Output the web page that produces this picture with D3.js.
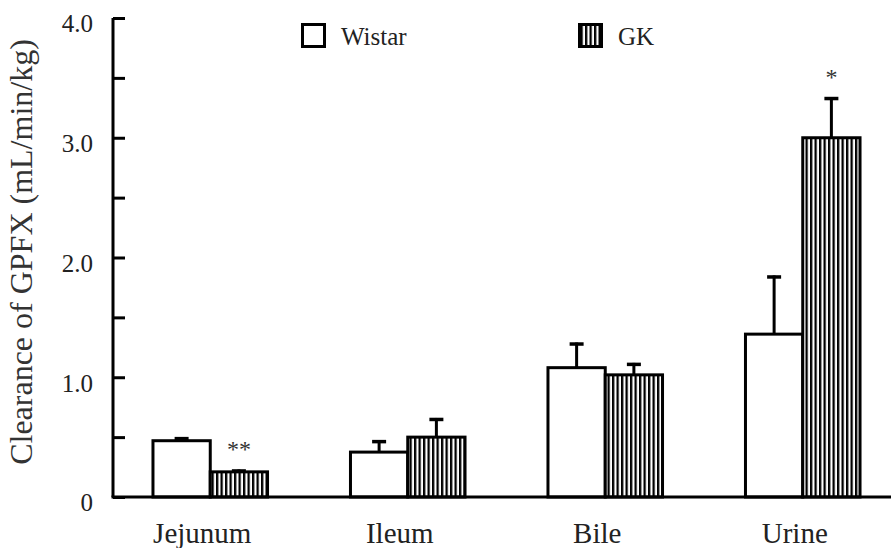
<!DOCTYPE html>
<html><head><meta charset="utf-8"><script src="https://cdn.jsdelivr.net/npm/d3@7"></script></head>
<body style="margin:0; font-family: 'Liberation Serif';">
<svg id="chart" width="891" height="548" style="font-family: 'Liberation Serif';"></svg>
<script>
// ---- data ----
const categories = ["Jejunum", "Ileum", "Bile", "Urine"];
const seriesNames = ["Wistar", "GK"];
const wistarValues = [0.47, 0.375, 1.08, 1.36];
const wistarErrors = [0.03, 0.10, 0.21, 0.49];
const gkValues = [0.21, 0.50, 1.02, 3.00];
const gkErrors = [0.02, 0.16, 0.10, 0.34];
const gkMarks = ["**", "", "", "*"];
const yTicks = [0, 0.5, 1, 1.5, 2, 2.5, 3, 3.5, 4];
const yTickLabels = ["0", "", "1.0", "", "2.0", "", "3.0", "", "4.0"];
const yLabel = "Clearance of GPFX (mL/min/kg)";

const FONT = '"Liberation Serif"';
const svg = d3.select("#chart");

function serif(sel) {
  return sel.style("font-family", FONT);
}

// pattern for GK hatching
const defs = svg.append("defs");
const pat = defs.append("pattern")
  .attr("id", "vstripes")
  .attr("patternUnits", "userSpaceOnUse")
  .attr("width", 4.5).attr("height", 10);
pat.append("rect").attr("width", 4.5).attr("height", 10).attr("fill", "#fff");
pat.append("rect").attr("x", 0).attr("width", 2.3).attr("height", 10).attr("fill", "#000");

const y = d3.scaleLinear().domain([0, 4]).range([497, 18]);
const x = d3.scaleBand().domain(categories).range([111.5, 901.5])
  .paddingInner(0.42).paddingOuter(0.21);
const xs = d3.scaleBand().domain(seriesNames).range([0, x.bandwidth()]).padding(0);

const data = [];
categories.forEach((c, i) => {
  data.push({cat: c, s: "Wistar", v: wistarValues[i], e: wistarErrors[i], mark: ""});
  data.push({cat: c, s: "GK", v: gkValues[i], e: gkErrors[i], mark: gkMarks[i]});
});

// error bars (drawn first, behind bars)
const eg = svg.append("g");
data.forEach(d => {
  const cx = x(d.cat) + xs(d.s) + xs.bandwidth() / 2;
  eg.append("line")
    .attr("x1", cx).attr("x2", cx)
    .attr("y1", y(d.v)).attr("y2", y(d.v + d.e))
    .attr("stroke", "#000").attr("stroke-width", 3);
  eg.append("line")
    .attr("x1", cx - 7).attr("x2", cx + 7)
    .attr("y1", y(d.v + d.e) + 1.5).attr("y2", y(d.v + d.e) + 1.5)
    .attr("stroke", "#000").attr("stroke-width", 3.5);
});

// bars
svg.append("g").selectAll("rect").data(data).join("rect")
  .attr("x", d => x(d.cat) + xs(d.s))
  .attr("width", xs.bandwidth())
  .attr("y", d => y(d.v))
  .attr("height", d => y(0) - y(d.v))
  .attr("fill", d => d.s === "GK" ? "url(#vstripes)" : "#fff")
  .attr("stroke", "#000")
  .attr("stroke-width", 3);

// significance marks
svg.append("g").selectAll("text").data(data.filter(d => d.mark)).join("text")
  .attr("x", d => x(d.cat) + xs(d.s) + xs.bandwidth() / 2)
  .attr("y", d => y(d.v + d.e) - 12)
  .attr("text-anchor", "middle")
  .attr("font-size", 24)
  .attr("fill", "#333")
  .text(d => d.mark)
  .call(serif);

// y axis
const yAxis = d3.axisLeft(y).tickValues(yTicks)
  .tickFormat((d, i) => yTickLabels[i])
  .tickSize(-12).tickPadding(20);
const gy = svg.append("g").attr("transform", "translate(113,0)").call(yAxis);
gy.attr("font-family", null).attr("font-size", 25);
gy.select(".domain").attr("d", `M0,${y(4)}V${y(0)}`).attr("stroke-width", 3).attr("stroke", "#000");
gy.selectAll(".tick line").attr("stroke-width", 3).attr("stroke", "#000");
gy.selectAll(".tick text")
  .attr("font-size", 25)
  .attr("fill", "#222").attr("dy", "0.55em")
  .call(serif);

// x axis (baseline)
const xAxis = d3.axisBottom(x).tickSize(0).tickPadding(0);
const gx = svg.append("g").attr("transform", `translate(0,${y(0)})`).call(xAxis);
gx.attr("font-family", null).attr("font-size", 29);
gx.select(".domain").attr("d", "M111.5,0H891").attr("stroke-width", 3).attr("stroke", "#000");
gx.selectAll(".tick text")
  .attr("font-size", 29)
  .attr("fill", "#222").attr("y", 46).attr("dy", 0).attr("dx", -8)
  .call(serif);

// y label
svg.append("text")
  .attr("transform", "translate(32,252) rotate(-90)")
  .attr("text-anchor", "middle")
  .attr("font-size", 32)
  .attr("fill", "#333")
  .text(yLabel)
  .call(serif);

// legend
const legendX = [301, 578];
const lg = svg.append("g");
seriesNames.forEach((s, i) => {
  lg.append("rect")
    .attr("x", legendX[i] + 1.5).attr("y", 24.5)
    .attr("width", 22).attr("height", 22)
    .attr("fill", s === "GK" ? "url(#vstripes)" : "#fff")
    .attr("stroke", "#000").attr("stroke-width", 3);
  lg.append("text")
    .attr("x", legendX[i] + 40).attr("y", 45)
    .attr("font-size", 25)
    .attr("fill", "#222")
    .text(s)
    .call(serif);
});
</script></body></html>
